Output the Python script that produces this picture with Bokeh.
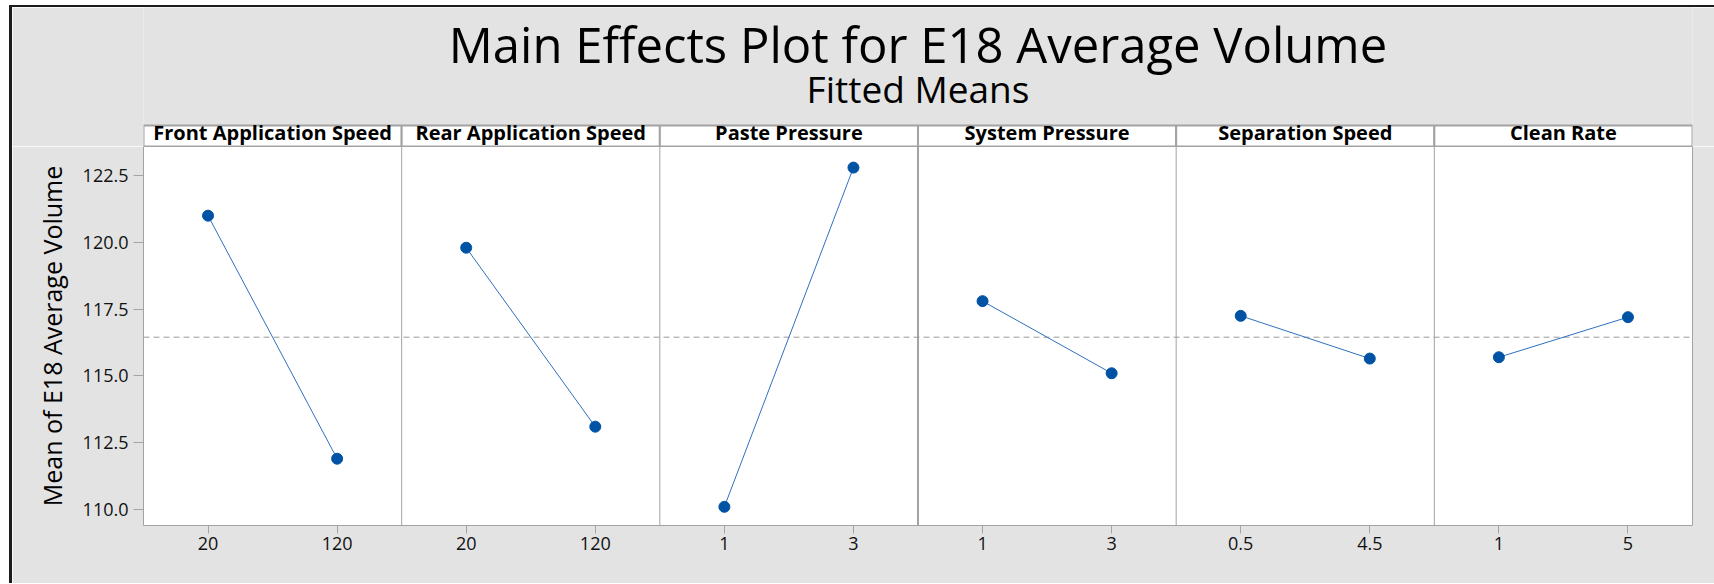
from bokeh.plotting import figure
from bokeh.layouts import column
from bokeh.models import FactorRange, Range1d, Span, NumeralTickFormatter, FixedTicker
from bokeh.embed import file_html
from bokeh.resources import INLINE
from bokeh.core.properties import value
import numpy as np

# ---------------- data ----------------
factors = ["Front Application Speed", "Rear Application Speed", "Paste Pressure",
           "System Pressure", "Separation Speed", "Clean Rate"]
levels = [["20", "120"], ["20", "120"], ["1", "3"], ["1", "3"], ["0.5", "4.5"], ["1", "5"]]
means = [[121.0, 111.9], [119.8, 113.1], [110.1, 122.8],
         [117.8, 115.1], [117.25, 115.65], [115.7, 117.2]]
grand_mean = 116.45
y_ticks = [110.0, 112.5, 115.0, 117.5, 120.0, 122.5]

title_text = "Main Effects Plot for E18 Average Volume"
subtitle_text = "Fitted Means"
y_label = "Mean of E18 Average Volume"

# ---------------- style ----------------
BG = "#e3e3e3"
FRAME = "#a3a3a3"
LINE = "#3070c0"
PT = "#0053a4"
TXT = "#111111"
FONT = "Open Sans"

W = 1702
BORDER_L = 131
BORDER_R = 22
TOP_H = 139      # titles + header strip
HDR_H = 21       # header strip height
PANEL_H = 437


def base_fig(**kw):
    return figure(width=W, title=None, output_backend="svg", toolbar_location=None,
                  min_border_left=BORDER_L, min_border_right=BORDER_R,
                  border_fill_color=BG, **kw)


# ---------------- titles + panel header strips ----------------
top = base_fig(height=TOP_H,
               x_range=FactorRange(*factors, range_padding=0, factor_padding=0),
               y_range=Range1d(0, TOP_H),
               x_axis_location=None, y_axis_location=None,
               min_border_top=0, min_border_bottom=0,
               background_fill_color=BG, outline_line_color=None)
top.grid.visible = False
center_x = len(factors) / 2
top.text(x=[center_x], y=[103], text=[title_text], text_align="center",
         text_baseline="middle", text_font=value(FONT), text_font_size="49px",
         text_color="#000000")
top.text(x=[center_x], y=[58], text=[subtitle_text], text_align="center",
         text_baseline="middle", text_font=value(FONT), text_font_size="37px",
         text_color="#000000")
top.vbar(x=factors, top=HDR_H, bottom=0, width=1, fill_color="white",
         line_color=FRAME, line_width=2)
top.text(x=factors, y=14.5, text=factors, text_align="center", text_baseline="middle",
         text_font=value(FONT), text_font_size="20px", text_font_style="bold",
         text_color="#000000")

# ---------------- panels ----------------
x_factors = [(f, l) for f, lv in zip(factors, levels) for l in lv]
p = base_fig(height=PANEL_H,
             x_range=FactorRange(*x_factors, range_padding=0, factor_padding=0, group_padding=0),
             y_range=Range1d(109.4, 123.59),
             min_border_top=0, min_border_bottom=58,
             background_fill_color="white",
             outline_line_color=FRAME, outline_line_width=1)
p.grid.visible = False

xa = p.xaxis[0]
xa.axis_line_color = None
xa.major_tick_line_color = FRAME
xa.major_tick_out = 8
xa.major_tick_in = 0
xa.major_label_standoff = 3
xa.major_label_text_font = FONT
xa.major_label_text_font_size = "18px"
xa.major_label_text_color = TXT
xa.group_text_font_size = "0px"
xa.group_text_color = None
xa.separator_line_color = None

ya = p.yaxis[0]
ya.ticker = FixedTicker(ticks=y_ticks)
ya.formatter = NumeralTickFormatter(format="0.0")
ya.axis_line_color = None
ya.major_tick_line_color = FRAME
ya.major_tick_out = 10
ya.major_tick_in = 0
ya.minor_tick_line_color = None
ya.major_label_standoff = 5
ya.major_label_text_font = FONT
ya.major_label_text_font_size = "18px"
ya.major_label_text_color = TXT
ya.axis_label = y_label
ya.axis_label_text_font = FONT
ya.axis_label_text_font_size = "25px"
ya.axis_label_text_font_style = "normal"
ya.axis_label_text_color = "#000000"
ya.axis_label_standoff = 11

# panel separators at group boundaries
bounds = np.cumsum([len(lv) for lv in levels])[:-1]
for i, b in enumerate(bounds):
    p.add_layout(Span(location=float(b), dimension="height", line_color=FRAME,
                      line_width=2 if i == 2 else 1, level="underlay"))

# grand mean reference line
p.add_layout(Span(location=grand_mean, dimension="width", line_color="#9a9a9a",
                  line_dash="6 4", line_width=1, level="underlay"))

for f, lv, m in zip(factors, levels, means):
    xs = [(f, l) for l in lv]
    p.line(xs, m, line_color=LINE, line_width=1)
    p.scatter(xs, m, size=11, fill_color=PT, line_color=PT)

layout = column(top, p, spacing=0,
                styles={"position": "absolute", "left": "9px", "top": "5px",
                        "border-left": "3px solid #1c1c1c",
                        "border-top": "2px solid #1c1c1c"})

open("out.html", "w").write(file_html(layout, INLINE))
